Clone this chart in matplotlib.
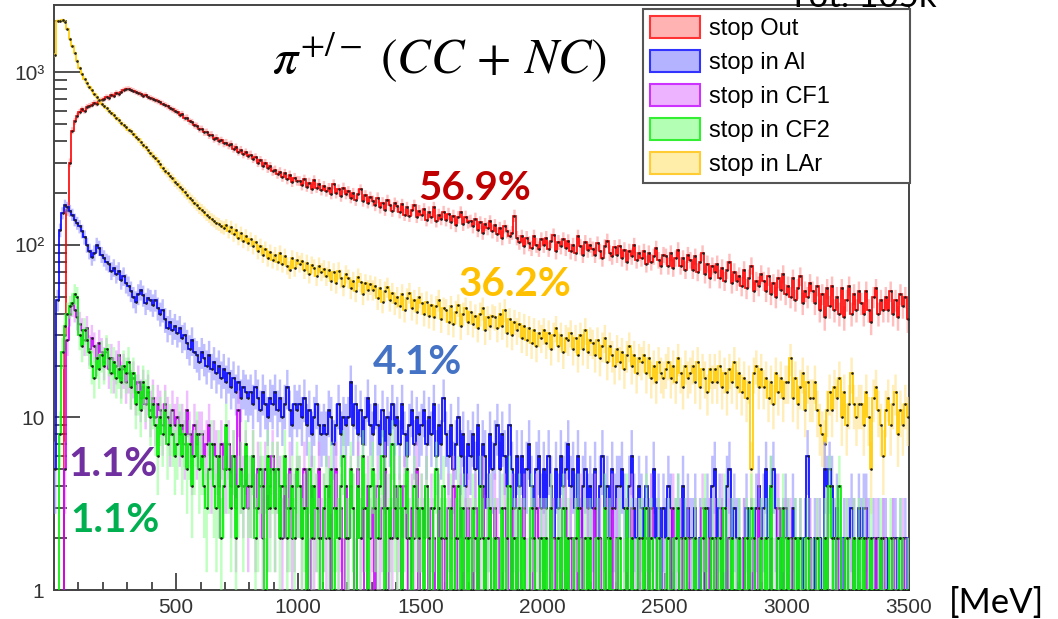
import numpy as np
import matplotlib.pyplot as plt
from matplotlib.patches import Patch
from matplotlib.ticker import LogLocator, MultipleLocator, NullFormatter

plt.rcParams['font.family'] = ['Liberation Sans', 'DejaVu Sans']
plt.rcParams['mathtext.fontset'] = 'stix'

# 10 MeV bins, 0 - 3500 MeV (one row = 100 MeV)
stop_out = [
    0, 0, 0, 0, 30, 160, 300, 460, 520, 560,
    590, 610, 600, 630, 640, 650, 665, 660, 680, 690,
    700, 720, 710, 740, 735, 760, 750, 775, 790, 800,
    805, 795, 785, 770, 760, 750, 735, 740, 720, 712,
    700, 690, 680, 670, 660, 648, 635, 622, 610, 600,
    590, 570, 575, 545, 548, 520, 515, 495, 490, 470,
    470, 450, 452, 432, 436, 412, 418, 398, 404, 388,
    392, 378, 384, 362, 368, 348, 356, 336, 344, 330,
    334, 316, 322, 300, 310, 288, 298, 278, 286, 268,
    272, 258, 266, 248, 260, 240, 254, 232, 246, 236,
    235, 222, 240, 218, 230, 212, 238, 215, 226, 208,
    220, 205, 214, 198, 225, 200, 210, 192, 215, 198,
    205, 188, 200, 182, 198, 210, 180, 194, 176, 190,
    180, 170, 188, 165, 176, 160, 182, 170, 158, 175,
    168, 155, 172, 150, 165, 148, 160, 170, 146, 158,
    150, 162, 140, 155, 145, 165, 138, 150, 142, 156,
    140, 152, 135, 148, 130, 145, 155, 132, 146, 136,
    138, 128, 142, 122, 135, 118, 132, 125, 137, 120,
    130, 115, 125, 110, 128, 120, 112, 118, 148, 110,
    104, 112, 98, 110, 102, 96, 112, 100, 95, 108,
    100, 110, 95, 106, 114, 92, 104, 98, 108, 96,
    105, 92, 100, 90, 112, 98, 88, 104, 94, 100,
    95, 88, 102, 92, 84, 98, 106, 90, 86, 97,
    88, 98, 84, 94, 80, 92, 86, 100, 82, 90,
    84, 92, 78, 90, 80, 86, 96, 82, 76, 88,
    86, 76, 90, 74, 84, 94, 76, 84, 72, 88,
    82, 72, 86, 70, 80, 90, 68, 78, 64, 76,
    70, 78, 64, 74, 62, 72, 80, 60, 70, 62,
    66, 58, 72, 56, 64, 76, 54, 62, 58, 68,
    62, 54, 66, 52, 60, 50, 64, 55, 68, 52,
    58, 50, 64, 48, 56, 66, 46, 54, 50, 60,
    54, 46, 58, 42, 52, 38, 56, 44, 58, 42,
    50, 40, 56, 38, 48, 58, 40, 52, 42, 54,
    46, 40, 54, 42, 36, 50, 56, 40, 48, 42,
    50, 42, 54, 40, 48, 38, 52, 44, 50, 37,
]

stop_al = [
    5, 48, 122, 153, 170, 165, 158, 150, 140, 134,
    128, 120, 111, 100, 92, 85, 90, 100, 96, 88,
    84, 80, 78, 71, 74, 68, 71, 63, 66, 60,
    58, 54, 50, 47, 52, 55, 51, 46, 49, 48,
    45, 48, 43, 40, 42, 37, 33, 36, 32, 34,
    31, 33, 29, 30, 27, 25, 28, 24, 23, 21,
    24, 22, 20, 23, 19, 21, 18, 20, 17, 19,
    16, 18, 15, 17, 14, 16, 13, 15, 14, 13,
    14, 12, 15, 13, 11, 14, 12, 10, 13, 12,
    14, 11, 13, 10, 12, 15, 11, 9, 12, 11,
    12, 10, 13, 9, 11, 8, 10, 12, 9, 8,
    9, 8, 11, 10, 7, 9, 12, 8, 10, 9,
    10, 16, 9, 12, 8, 11, 7, 10, 13, 9,
    8, 12, 9, 7, 11, 6, 10, 8, 12, 9,
    10, 7, 12, 8, 6, 9, 11, 7, 10, 8,
    9, 11, 7, 10, 8, 12, 6, 9, 7, 13,
    8, 6, 9, 5, 7, 10, 6, 8, 4, 7,
    6, 8, 5, 9, 4, 7, 6, 3, 8, 5,
    7, 9, 5, 8, 6, 4, 9, 5, 3, 6,
    4, 6, 3, 5, 7, 4, 2, 5, 6, 3,
    5, 3, 6, 4, 2, 5, 3, 6, 4, 5,
    7, 4, 5, 3, 6, 2, 4, 5, 3, 4,
    3, 5, 2, 4, 6, 3, 4, 2, 5, 3,
    4, 4, 5, 3, 2, 4, 6, 3, 2, 4,
    3, 2, 4, 2, 3, 5, 2, 3, 1, 3,
    2, 4, 3, 1, 2, 3, 2, 4, 2, 3,
    2, 2, 3, 1, 2, 0, 2, 3, 2, 4,
    5, 2, 3, 2, 1, 4, 5, 2, 3, 2,
    2, 1, 2, 3, 0, 2, 1, 3, 4, 2,
    3, 5, 2, 4, 5, 3, 2, 1, 2, 3,
    2, 1, 3, 2, 0, 2, 1, 2, 6, 2,
    1, 2, 0, 2, 1, 5, 4, 5, 4, 2,
    3, 2, 1, 2, 0, 2, 3, 2, 1, 3,
    2, 3, 3, 2, 0, 2, 1, 2, 1, 2,
    2, 1, 0, 2, 2, 1, 2, 0, 2, 1,
]

stop_cf1 = [
    0, 0, 0, 0, 5, 28, 40, 45, 42, 38,
    35, 32, 28, 33, 25, 29, 26, 22, 27, 24,
    21, 24, 19, 22, 18, 20, 23, 17, 19, 16,
    18, 15, 17, 14, 16, 13, 15, 12, 14, 11,
    13, 10, 12, 11, 9, 12, 10, 8, 11, 9,
    10, 8, 9, 7, 11, 8, 6, 9, 7, 8,
    8, 6, 7, 9, 5, 7, 6, 4, 7, 5,
    5, 7, 4, 6, 3, 11, 5, 4, 6, 3,
    4, 6, 3, 5, 4, 2, 5, 3, 4, 6,
    3, 5, 4, 2, 4, 3, 5, 2, 3, 4,
    4, 2, 5, 3, 1, 4, 2, 3, 5, 2,
    3, 2, 4, 1, 3, 5, 2, 3, 1, 4,
    2, 4, 3, 1, 5, 2, 3, 0, 4, 2,
    3, 1, 4, 2, 3, 5, 1, 3, 2, 4,
    2, 3, 1, 4, 2, 0, 3, 2, 5, 1,
    3, 2, 4, 1, 3, 2, 0, 3, 1, 2,
    1, 3, 2, 4, 1, 2, 3, 0, 2, 3,
    2, 1, 3, 0, 2, 4, 1, 2, 3, 1,
    3, 2, 0, 1, 3, 2, 1, 3, 0, 2,
    1, 2, 3, 1, 0, 2, 1, 3, 2, 0,
    2, 0, 1, 3, 2, 1, 0, 2, 1, 3,
    0, 2, 1, 2, 0, 3, 1, 0, 2, 1,
    1, 3, 0, 2, 1, 0, 2, 1, 3, 0,
    2, 1, 0, 1, 2, 0, 3, 1, 0, 2,
    1, 0, 2, 1, 3, 0, 1, 2, 0, 1,
    0, 2, 1, 3, 0, 1, 2, 0, 1, 2,
    1, 0, 2, 0, 1, 3, 0, 1, 2, 0,
    2, 1, 0, 3, 1, 0, 2, 1, 0, 1,
    0, 1, 2, 0, 1, 2, 0, 1, 3, 0,
    1, 0, 1, 2, 0, 1, 3, 0, 1, 2,
    0, 2, 1, 0, 1, 2, 0, 1, 0, 2,
    1, 0, 2, 1, 0, 1, 2, 0, 1, 0,
    2, 1, 0, 1, 2, 0, 1, 2, 0, 1,
    0, 1, 2, 0, 1, 0, 2, 1, 0, 2,
    1, 0, 1, 2, 0, 1, 0, 2, 1, 0,
]

stop_cf2 = [
    0, 0, 8, 24, 34, 40, 44, 46, 52, 50,
    30, 26, 32, 28, 24, 20, 17, 22, 19, 23,
    20, 25, 22, 18, 21, 17, 19, 16, 20, 18,
    21, 15, 18, 12, 14, 11, 16, 13, 15, 10,
    12, 9, 6, 10, 8, 11, 7, 9, 8, 6,
    7, 9, 6, 8, 5, 7, 4, 6, 8, 5,
    6, 4, 3, 5, 7, 4, 3, 6, 2, 4,
    9, 5, 3, 6, 2, 4, 5, 3, 7, 4,
    4, 6, 2, 3, 5, 4, 1, 6, 3, 5,
    3, 5, 2, 4, 6, 2, 3, 4, 2, 5,
    4, 2, 3, 1, 5, 2, 4, 3, 2, 0,
    3, 4, 2, 5, 1, 3, 2, 4, 6, 2,
    2, 5, 3, 0, 4, 2, 6, 3, 1, 4,
    5, 3, 2, 4, 6, 1, 3, 2, 7, 3,
    2, 4, 1, 3, 5, 2, 0, 4, 3, 2,
    3, 1, 4, 2, 0, 3, 5, 1, 2, 4,
    2, 0, 3, 1, 2, 4, 1, 3, 0, 2,
    1, 3, 2, 0, 4, 2, 1, 2, 3, 1,
    2, 1, 0, 3, 1, 2, 4, 0, 2, 1,
    3, 1, 2, 0, 1, 3, 2, 1, 0, 2,
    1, 2, 0, 3, 1, 0, 2, 1, 3, 1,
    2, 0, 1, 2, 3, 1, 0, 2, 1, 2,
    0, 1, 2, 1, 0, 3, 1, 2, 0, 1,
    1, 2, 0, 1, 3, 1, 2, 0, 1, 2,
    2, 1, 3, 0, 2, 1, 0, 2, 1, 0,
    1, 2, 0, 1, 2, 3, 1, 0, 2, 1,
    0, 1, 2, 1, 0, 2, 3, 1, 0, 2,
    1, 0, 2, 1, 3, 0, 1, 2, 1, 0,
    2, 1, 0, 2, 1, 3, 2, 0, 1, 2,
    0, 2, 1, 4, 1, 0, 2, 1, 3, 1,
    2, 1, 0, 2, 1, 2, 0, 1, 2, 1,
    1, 0, 2, 1, 0, 2, 1, 4, 2, 0,
    2, 4, 1, 0, 2, 1, 0, 2, 1, 2,
    1, 2, 0, 1, 2, 1, 0, 1, 2, 0,
    1, 0, 2, 1, 0, 1, 2, 1, 0, 1,
]

stop_lar = [
    1260, 2000, 1990, 2010, 1970, 1790, 1560, 1420, 1290, 1160,
    1060, 980, 920, 870, 820, 790, 750, 720, 690, 660,
    640, 620, 600, 580, 565, 545, 530, 510, 495, 480,
    465, 455, 440, 425, 410, 395, 380, 370, 355, 340,
    330, 318, 305, 296, 280, 270, 262, 250, 243, 232,
    225, 218, 210, 202, 196, 188, 182, 176, 170, 164,
    160, 155, 150, 146, 141, 138, 134, 132, 128, 126,
    130, 120, 127, 115, 122, 110, 117, 106, 113, 102,
    108, 98, 104, 92, 99, 88, 95, 84, 91, 82,
    88, 80, 90, 78, 86, 76, 72, 84, 74, 82,
    78, 81, 72, 79, 68, 77, 74, 66, 76, 70,
    73, 66, 72, 62, 70, 60, 71, 64, 58, 68,
    64, 56, 62, 54, 65, 61, 52, 60, 55, 59,
    55, 58, 49, 56, 47, 54, 57, 48, 53, 46,
    50, 44, 52, 42, 49, 53, 43, 48, 41, 50,
    46, 40, 47, 39, 45, 38, 44, 48, 37, 43,
    42, 36, 44, 35, 41, 45, 34, 40, 43, 36,
    41, 35, 39, 33, 40, 43, 32, 38, 34, 39,
    38, 33, 40, 34, 42, 31, 37, 30, 36, 32,
    35, 29, 34, 28, 33, 27, 32, 26, 31, 29,
    32, 27, 31, 25, 30, 33, 26, 30, 24, 29,
    28, 31, 25, 29, 23, 30, 25, 32, 24, 28,
    27, 23, 28, 22, 26, 29, 21, 26, 23, 20,
    25, 21, 24, 19, 23, 26, 20, 23, 18, 22,
    21, 23, 18, 22, 17, 20, 16, 21, 18, 17,
    19, 21, 17, 20, 16, 22, 18, 15, 20, 17,
    18, 20, 16, 21, 15, 19, 17, 14, 19, 16,
    19, 16, 20, 15, 18, 14, 19, 16, 21, 15,
    18, 14, 17, 13, 16, 5, 18, 20, 15, 19,
    15, 17, 13, 16, 12, 18, 14, 17, 13, 16,
    16, 22, 13, 17, 12, 15, 18, 11, 16, 13,
    13, 16, 11, 9, 8, 7, 11, 14, 11, 15,
    13, 17, 10, 14, 9, 12, 18, 12, 10, 12,
    12, 9, 14, 10, 5, 13, 15, 11, 9, 6,
    11, 13, 9, 12, 14, 8, 11, 9, 12, 10,
]

labels = ['stop Out', 'stop in Al', 'stop in CF1', 'stop in CF2', 'stop in LAr']
line_cols = ['#ff0000', '#0000ff', '#cc00ff', '#00ee00', '#ffcc00']
band_cols = ['#ff8c8c', '#8c8cff', '#e58cff', '#8cff8c', '#ffe080']
leg_face = ['#ffb3b3', '#b3b3ff', '#eeb3ff', '#b3ffb3', '#ffeeaa']
leg_edge = ['#ff3333', '#3333ff', '#cc33ff', '#33ee33', '#ffcc33']

edges = np.arange(0, 3501, 10)
centers = 0.5 * (edges[1:] + edges[:-1])

fig = plt.figure(figsize=(10.58, 6.19), dpi=100)
ax = fig.add_axes([54 / 1058, 29 / 619, 855 / 1058, 585 / 619])
ax.set_yscale('log')


def draw(vals, lc, bc, z):
    v = np.array(vals, dtype=float)
    e = np.sqrt(v)
    ax.stairs(v + e, edges, baseline=v - e, fill=True, color=bc, alpha=0.55, lw=0, zorder=z)
    ax.stairs(v, edges, baseline=None, color=lc, lw=1.2, zorder=z + 0.5)
    m = v > 0
    ax.plot(centers[m], v[m], 'o', ms=0.9, color='#222222', zorder=z + 0.6)


series = [stop_out, stop_al, stop_cf1, stop_cf2, stop_lar]
zs = [2, 4, 5, 6, 3]
for vals, lc, bc, z in zip(series, line_cols, band_cols, zs):
    draw(vals, lc, bc, z)

ax.set_xlim(0, 3500)
ax.set_ylim(1, 2460)
ax.set_xticks([500, 1000, 1500, 2000, 2500, 3000, 3500])
ax.xaxis.set_minor_locator(MultipleLocator(100))
ax.set_yticks([1, 10, 100, 1000], ['1', '10', '10²', '10³'])
ax.yaxis.set_minor_locator(LogLocator(base=10, subs=np.arange(2, 10)))
ax.yaxis.set_minor_formatter(NullFormatter())

ax.tick_params(axis='both', which='both', direction='in', colors='#333333',
               labelsize=15, width=1.2, top=False, right=False)
ax.tick_params(axis='x', which='major', length=12, pad=6)
ax.tick_params(axis='x', which='minor', length=6)
ax.tick_params(axis='y', which='major', length=19, pad=7)
ax.tick_params(axis='y', which='minor', length=9.5)
for s in ax.spines.values():
    s.set_color('#444444')
    s.set_linewidth(1.4)

handles = [Patch(facecolor=f, edgecolor=e, lw=1.5) for f, e in zip(leg_face, leg_edge)]
leg = ax.legend(handles, labels, loc='upper left', bbox_to_anchor=(0.689, 0.993, 0.312, 0.0),
                mode='expand', fontsize=17, handlelength=2.1, handleheight=1.05,
                labelspacing=0.42, borderpad=0.3, handletextpad=0.4, borderaxespad=0,
                fancybox=False, framealpha=1)
leg.get_frame().set_edgecolor('#555555')
leg.get_frame().set_linewidth(1.5)
leg.set_zorder(10)

fig.text(272 / 1058, 1 - 58 / 619, r'$\pi^{+/-}\;(CC\,+\,NC)$', fontsize=36,
         ha='left', va='center', color='black')

pct_font = ['Lato', 'DejaVu Sans']
fig.text(475 / 1058, 1 - 188 / 619, '56.9%', color='#C00000', fontsize=29,
         fontweight='bold', family=pct_font, ha='center', va='center')
fig.text(515 / 1058, 1 - 285 / 619, '36.2%', color='#FFC000', fontsize=29,
         fontweight='bold', family=pct_font, ha='center', va='center')
fig.text(417 / 1058, 1 - 362 / 619, '4.1%', color='#4472C4', fontsize=29,
         fontweight='bold', family=pct_font, ha='center', va='center')
fig.text(113 / 1058, 1 - 465 / 619, '1.1%', color='#7030A0', fontsize=29,
         fontweight='bold', family=pct_font, ha='center', va='center')
fig.text(115 / 1058, 1 - 520 / 619, '1.1%', color='#00B050', fontsize=29,
         fontweight='bold', family=pct_font, ha='center', va='center')

fig.text(997 / 1058, 1 - 603 / 619, '[MeV]', fontsize=25, family=pct_font,
         ha='center', va='center', color='black')
# the reference shows this label cut by the top edge
fig.text(788 / 1058, 1 - 7 / 619, 'Tot: 105k', fontsize=25, family=pct_font,
         ha='left', va='baseline', color='black')

fig.savefig('out.png', dpi=100)
